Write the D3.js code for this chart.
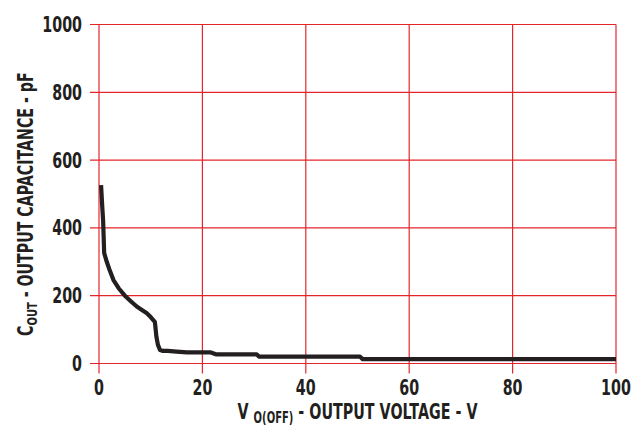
<!DOCTYPE html>
<html>
<head>
<meta charset="utf-8">
<script src="https://cdn.jsdelivr.net/npm/d3@7"></script>
<style>
  html, body { margin: 0; padding: 0; background: #fff; }
  svg text { font-family: "DejaVu Sans", sans-serif; font-weight: bold; fill: #231f20; }
</style>
</head>
<body>
<svg id="chart" width="640" height="425"></svg>
<script>
// output capacitance vs off-state output voltage
const voltage = [0.4, 0.6, 0.8, 1.0, 1.5, 2.0, 2.8, 3.8, 5.0, 6.2, 7.3, 8.3, 9.2, 10.0, 10.8, 10.9, 11.1, 11.4, 11.8, 12.4, 13.3, 15, 17, 21.5, 22.6, 30.5, 31, 50.5, 51, 100];
const capacitance = [526, 470, 420, 326, 300, 278, 246, 222, 200, 183, 168, 158, 149, 137, 123, 110, 79, 55, 40, 37, 37, 35, 33, 33, 27, 27, 20, 20, 13, 13];
const xTicks = [0, 20, 40, 60, 80, 100];
const yTicks = [0, 200, 400, 600, 800, 1000];

const svg = d3.select('#chart');
const L = 99, R = 616, T = 24.5, B = 363.5;
const x = d3.scaleLinear().domain([0, 100]).range([L, R]);
const y = d3.scaleLinear().domain([0, 1000]).range([B, T]);
const red = '#e4262c';
const SQ = 0.68;   // horizontal squeeze to mimic a condensed face

// grid (extends past the frame as tick marks)
svg.append('g').selectAll('line').data(yTicks).join('line')
  .attr('x1', L - 9).attr('x2', R).attr('y1', d => y(d)).attr('y2', d => y(d))
  .attr('stroke', red).attr('stroke-width', 1.2);
svg.append('g').selectAll('line').data(xTicks).join('line')
  .attr('x1', d => x(d)).attr('x2', d => x(d)).attr('y1', T).attr('y2', B + 10)
  .attr('stroke', red).attr('stroke-width', 1.2);

// tick labels
svg.append('g').selectAll('text').data(yTicks).join('text')
  .attr('transform', d => `translate(82,${y(d) + 7.5}) scale(${SQ},1)`).attr('text-anchor', 'end')
  .attr('font-size', 21).text(d => d);
svg.append('g').selectAll('text').data(xTicks).join('text')
  .attr('transform', d => `translate(${x(d)},395) scale(${SQ},1)`).attr('text-anchor', 'middle')
  .attr('font-size', 21).text(d => d);

// curve
const line = d3.line().x((d, i) => x(voltage[i])).y(d => y(d));
svg.append('path').datum(capacitance).attr('d', line)
  .attr('fill', 'none').attr('stroke', '#231f20').attr('stroke-width', 4.2)
  .attr('stroke-linejoin', 'round').attr('stroke-linecap', 'butt');

// axis titles, squeezed to the reference's span
function title(g, size, anchor, main, sub, rest) {
  const t = g.append('text').attr('text-anchor', anchor).attr('font-size', size);
  t.append('tspan').text(main);
  t.append('tspan').attr('font-size', size * 0.7).attr('dy', 4).text(sub);
  t.append('tspan').attr('dy', -4).text(rest);
  return t;
}
const gx = svg.append('g');
const xt = title(gx, 22, 'middle', 'V ', 'O(OFF)', ' - OUTPUT VOLTAGE - V');
gx.attr('transform', `translate(${(L + R) / 2},419) scale(${240 / xt.node().getBBox().width},1)`);

// starts at the C (y≈335) and runs up to the pF (y≈72)
const gy = svg.append('g');
const yt = title(gy, 21, 'start', 'C', 'OUT', ' - OUTPUT CAPACITANCE - pF');
gy.attr('transform', `translate(33,336) rotate(-90) scale(${264 / yt.node().getBBox().width},1)`);
</script>
</body>
</html>
